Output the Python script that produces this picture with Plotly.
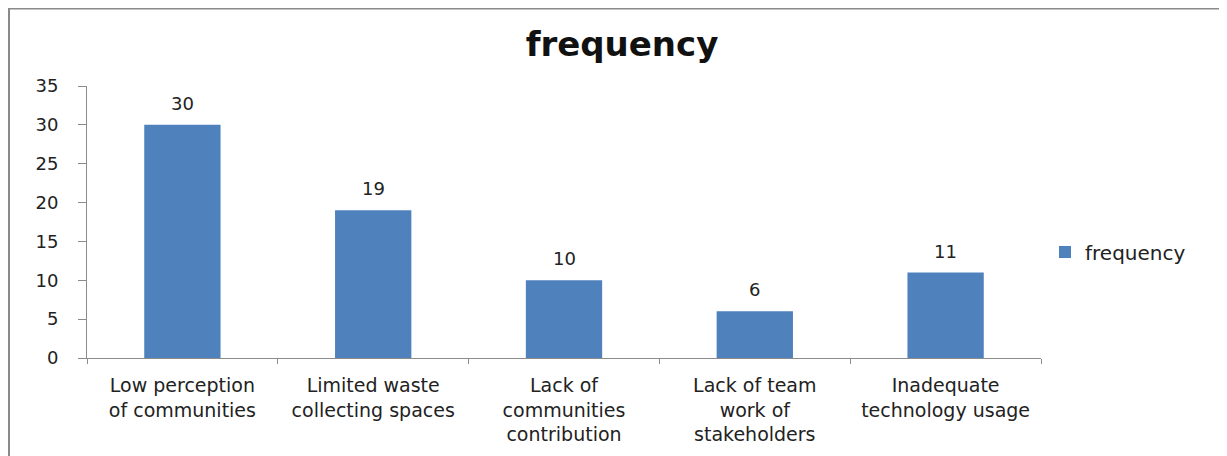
import plotly.graph_objects as go

categories = [
    "Low perception<br>of communities",
    "Limited waste<br>collecting spaces",
    "Lack of<br>communities<br>contribution",
    "Lack of team<br>work of<br>stakeholders",
    "Inadequate<br>technology usage",
]
frequency = [30, 19, 10, 6, 11]
series_name = "frequency"
y_ticks = [0, 5, 10, 15, 20, 25, 30, 35]

OFF = 8  # page body margin
W, H = 1227 - OFF, 456 - OFF
L, R, T, B = 87 - OFF, 1041 - OFF, 86 - OFF, 358 - OFF

def px_x(p):
    return (p - OFF - L) / (R - L)

def px_y(p):
    return (B - (p - OFF)) / (B - T)

FONT = "DejaVu Sans"
TXT = "#222"

fig = go.Figure()
fig.add_trace(go.Bar(
    x=categories, y=frequency, name=series_name,
    marker=dict(color="#4F81BD", line=dict(width=0)),
))

for c, v in zip(categories, frequency):
    fig.add_annotation(x=c, y=v, text=str(v), showarrow=False,
                       yanchor="bottom", yshift=9,
                       font=dict(family=FONT, size=18, color=TXT))

fig.update_layout(
    width=W, height=H,
    margin=dict(l=L, r=W - R, t=T, b=H - B, pad=0),
    paper_bgcolor="white", plot_bgcolor="white",
    bargap=0.6,
    showlegend=True,
    title=dict(text="<b>frequency</b>", x=(622 - OFF) / W, xref="container", xanchor="center",
               y=1 - (44 - OFF) / H, yref="container", yanchor="middle",
               font=dict(family=FONT, size=34, color="#111")),
    legend=dict(x=px_x(1045), y=px_y(252), xanchor="left", yanchor="middle",
                font=dict(family=FONT, size=20, color=TXT),
                bgcolor="rgba(0,0,0,0)", itemwidth=30),
    font=dict(family=FONT, size=18, color=TXT),
    xaxis=dict(showline=True, linecolor="#8c8c8c", linewidth=1,
               ticks="outside", ticklen=5, tickcolor="#8c8c8c",
               tickson="boundaries", showgrid=False, ticklabelstandoff=10,
               tickfont=dict(family=FONT, size=19, color=TXT)),
    yaxis=dict(range=[0, 35], tickvals=y_ticks, showline=True, linecolor="#8c8c8c",
               linewidth=1, ticks="outside", ticklen=8, tickcolor="#8c8c8c",
               showgrid=False, zeroline=False, ticklabelstandoff=16,
               tickfont=dict(family=FONT, size=18, color=TXT)),
    shapes=[
        dict(type="line", xref="paper", yref="paper",
             x0=px_x(8), x1=px_x(1240), y0=px_y(8.5), y1=px_y(8.5),
             line=dict(color="#8a8a8a", width=2)),
        dict(type="line", xref="paper", yref="paper",
             x0=px_x(9), x1=px_x(9), y0=px_y(8), y1=px_y(470),
             line=dict(color="#8a8a8a", width=2)),
    ],
)

fig.write_html("out.html")
